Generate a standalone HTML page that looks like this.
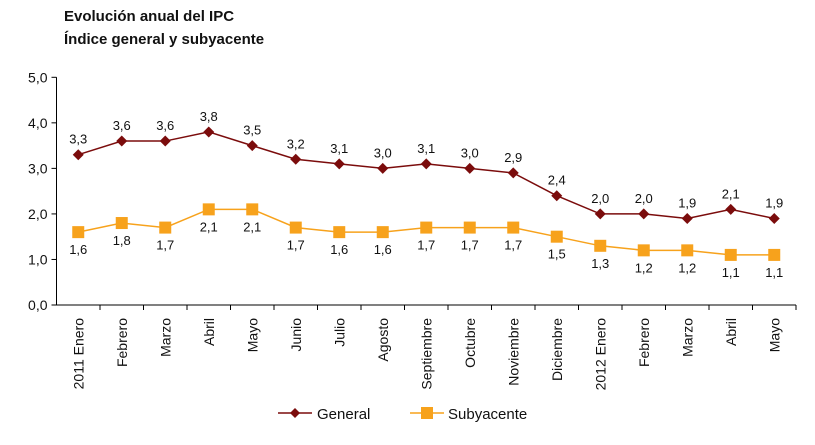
<!DOCTYPE html>
<html><head><meta charset="utf-8"><style>
body{margin:0;background:#fff;font-family:"Liberation Sans",sans-serif}
svg text{font-family:"Liberation Sans",sans-serif}
</style></head><body>
<svg id="c" width="815" height="440" xmlns="http://www.w3.org/2000/svg">
<text x="64" y="21" font-size="15" font-weight="bold" fill="#111">Evolución anual del IPC</text>
<text x="64" y="44" font-size="15" font-weight="bold" fill="#111">Índice general y subyacente</text>
<g id="g"></g>
</svg>
<script>
const categories=["2011 Enero","Febrero","Marzo","Abril","Mayo","Junio","Julio","Agosto","Septiembre","Octubre","Noviembre","Diciembre","2012 Enero","Febrero","Marzo","Abril","Mayo"];
const general=[3.3,3.6,3.6,3.8,3.5,3.2,3.1,3.0,3.1,3.0,2.9,2.4,2.0,2.0,1.9,2.1,1.9];
const subyacente=[1.6,1.8,1.7,2.1,2.1,1.7,1.6,1.6,1.7,1.7,1.7,1.5,1.3,1.2,1.2,1.1,1.1];
const yTicks=[0,1,2,3,4,5];
const NS="http://www.w3.org/2000/svg";
const g=document.getElementById('g');
const x0=56.5,y0=305,yTop=77.3,bw=43.5;
const xs=i=>x0+bw*(i+0.5);
const ys=v=>y0-(y0-yTop)*v/5;
const fmt=v=>v.toFixed(1).replace('.',',');
function el(t,a){const e=document.createElementNS(NS,t);for(const k in a)e.setAttribute(k,a[k]);g.appendChild(e);return e;}
let ax=el('path',{d:`M${x0},${yTop}V${y0}H${x0+bw*categories.length}`,stroke:'#000',fill:'none','stroke-width':1});


yTicks.forEach(v=>{
 let t=el('line',{x1:x0-5,x2:x0,y1:ys(v),y2:ys(v),stroke:'#000'});
 
 
 let l=el('text',{x:x0-9,y:ys(v)+5,'text-anchor':'end','font-size':14,fill:'#111'});l.textContent=fmt(v);
 
 
});
categories.forEach((c,i)=>{
 let t=el('line',{x1:x0+bw*(i+1),x2:x0+bw*(i+1),y1:y0,y2:y0+5,stroke:'#000'});
 
 
 let l=el('text',{x:0,y:0,'text-anchor':'end','font-size':14,fill:'#111',transform:`translate(${xs(i)+5},${y0+13}) rotate(-90)`});l.textContent=c;
 
 
});
function series(data,color,marker,above,name){
 let p=el('polyline',{points:data.map((v,i)=>xs(i)+','+ys(v)).join(' '),fill:'none',stroke:color,'stroke-width':1.5});
 
 
 data.forEach((v,i)=>{
  let m;
  if(marker==='d') m=el('path',{d:`M${xs(i)},${ys(v)-5.5}l5.5,5.5l-5.5,5.5l-5.5,-5.5z`,fill:color});
  else m=el('rect',{x:xs(i)-6,y:ys(v)-6,width:12,height:12,fill:color});
  
  
  let l=el('text',{x:xs(i),y:above?ys(v)-11:ys(v)+22,'text-anchor':'middle','font-size':13,fill:'#111'});l.textContent=fmt(v);
  
  
 });
}
series(subyacente,'#f7a21c','s',false,'subyacente');
series(general,'#7b0c0c','d',true,'general');
let lg1=el('line',{x1:278,x2:312,y1:413,y2:413,stroke:'#7b0c0c','stroke-width':1.5});


let lm1=el('path',{d:'M295,408l5,5l-5,5l-5,-5z',fill:'#7b0c0c'});


let lt1=el('text',{x:317,y:419,'font-size':15,fill:'#111'});lt1.textContent='General';


let lg2=el('line',{x1:410,x2:444,y1:413,y2:413,stroke:'#f7a21c','stroke-width':1.5});


let lm2=el('rect',{x:421,y:407,width:12,height:12,fill:'#f7a21c'});


let lt2=el('text',{x:448,y:419,'font-size':15,fill:'#111'});lt2.textContent='Subyacente';


</script>
</body></html>
